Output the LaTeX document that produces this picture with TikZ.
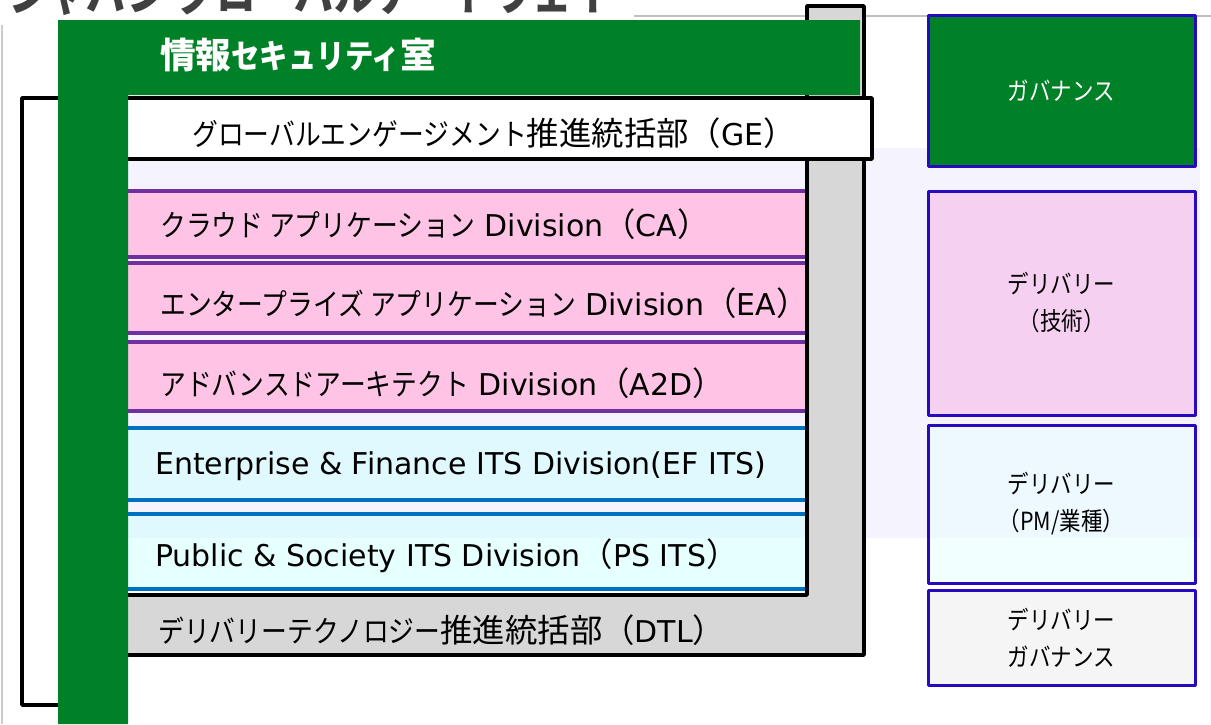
\documentclass[tikz,border=0pt]{standalone}
\usepackage{fontspec}
\setmainfont{DejaVu Sans}
\newfontfamily\jp[FakeStretch=0.86]{Noto Sans CJK JP}
\newfontfamily\kj[Scale=1.08]{Noto Sans CJK JP}

\definecolor{verde}{RGB}{0,128,39}
\definecolor{roxo}{RGB}{112,48,160}
\definecolor{azul}{RGB}{0,112,192}
\definecolor{anil}{RGB}{40,10,190}
\definecolor{rosa}{RGB}{255,195,230}
\definecolor{rosaclaro}{RGB}{246,208,240}
\definecolor{ciano}{RGB}{205,255,255}
\definecolor{lavanda}{RGB}{245,243,254}
\definecolor{cinza}{RGB}{215,215,215}
\definecolor{grafite}{RGB}{64,64,64}

\begin{document}
\begin{tikzpicture}[x=1pt, y=-1pt, line join=round,
    rotulo/.style={anchor=west, inner sep=0pt, font=\fontsize{30}{36}\selectfont},
    caixa/.style={draw=anil, line width=3pt, minimum width=267pt, align=center,
        text opacity=1, font=\jp\fontsize{25}{37}\selectfont}]
    \useasboundingbox (0,0) rectangle (1211,724);

    % titulo cortado e linhas cinza
    \node[anchor=base west, inner sep=0pt, text=grafite, font=\jp\bfseries\fontsize{46}{46}\selectfont] (titulo) at (9,10) {ジャパン グローバルゲートウェイ};
    \draw[black!25, line width=2.5pt] (634,16) -- (1211,16);
    \draw[black!20, line width=2pt] (2,25) -- (2,724);

    % fundo lavanda
    \fill[lavanda] (128,148) rectangle (1200,538);

    % faixas das divisoes
    \foreach \t/\b in {191/257, 263/333, 342/411} {
        \fill[rosa] (120,\t) rectangle (806,\b);
        \draw[roxo, line width=3.5pt] (120,\t) -- (806,\t) (120,\b) -- (806,\b);
    }
    \foreach \t/\b in {428/500, 514/589} {
        \fill[ciano, fill opacity=0.5] (120,\t) rectangle (806,\b);
        \draw[azul, line width=3.5pt] (120,\t) -- (806,\t) (120,\b) -- (806,\b);
    }

    % DTL, GE e informacao
    \draw[fill=cinza, line width=3.5pt] (807,6) -- (864,6) -- (864,655) -- (100,655) -- (100,595) -- (807,595) -- cycle;
    \draw[fill=white, line width=3.5pt] (22,98) -- (872,98) -- (872,159) -- (100,159) -- (100,705) -- (22,705) -- cycle;
    \fill[verde] (58,20) -- (860,20) -- (860,95) -- (128,95) -- (128,724) -- (58,724) -- cycle;

    \node[anchor=west, inner sep=0pt, text=white, font=\jp\bfseries\fontsize{33}{33}\selectfont] (seg) at (160,55) {{\kj\bfseries 情報}セキュリティ{\kj\bfseries 室}};
    \node[rotulo] (ge) at (192,133) {{\jp グローバルエンゲージメント}{\kj 推進統括部（}GE{\kj ）}};
    \node[rotulo] (ca) at (160,224) {{\jp クラウド アプリケーション} Division{\kj （}CA{\kj ）}};
    \node[rotulo] (ea) at (160,303) {{\jp エンタープライズ アプリケーション} Division{\kj （}EA{\kj ）}};
    \node[rotulo] (a2d) at (160,383) {{\jp アドバンスドアーキテクト} Division{\kj （}A2D{\kj ）}};
    \node[rotulo] (efits) at (155,466) {Enterprise \& Finance ITS Division(EF ITS)};
    \node[rotulo] (psits) at (155,556) {Public \& Society ITS Division{\kj （}PS ITS{\kj ）}};
    \node[rotulo] (dtl) at (158,630) {{\jp デリバリーテクノロジー}{\kj 推進統括部（}DTL{\kj ）}};

    % papeis a direita
    \node[caixa, fill=verde, text=white, minimum height=151pt] (gov) at (1061.5,90.5) {ガバナンス};
    \node[caixa, fill=rosaclaro, minimum height=224pt] (tec) at (1061.5,303) {デリバリー\\（技術）};
    \node[caixa, fill=ciano!50, fill opacity=0.5, minimum height=158pt] (pm) at (1061.5,504) {デリバリー\\（PM/業種）};
    \node[caixa, fill=black!4, minimum height=95pt] (dg) at (1061.5,637.5) {デリバリー\\ガバナンス};
\end{tikzpicture}
\end{document}
